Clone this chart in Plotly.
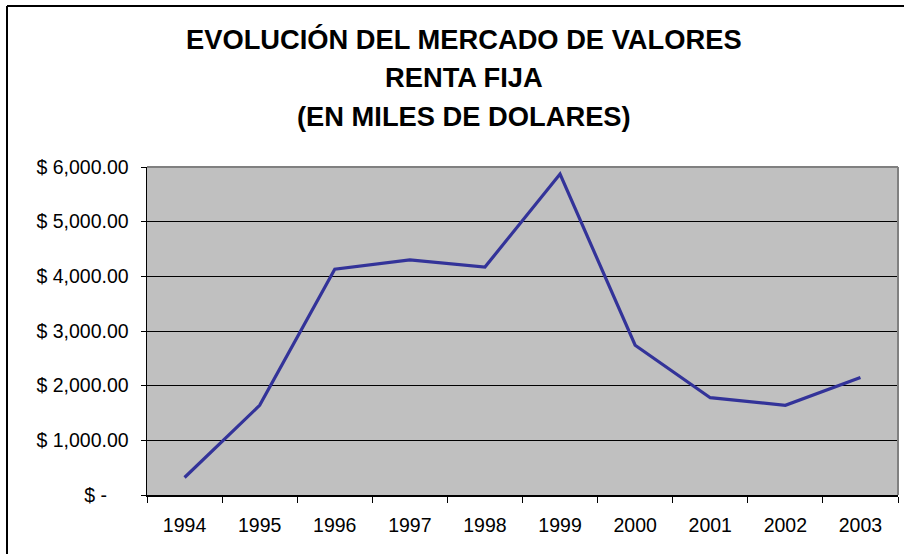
import plotly.graph_objects as go

years = ["1994", "1995", "1996", "1997", "1998", "1999", "2000", "2001", "2002", "2003"]
values = [320, 1640, 4130, 4300, 4170, 5870, 2740, 1780, 1640, 2150]

y_tickvals = [0, 1000, 2000, 3000, 4000, 5000, 6000]
y_ticktext = ["$ -\u00a0\u00a0\u00a0\u00a0", "$ 1,000.00", "$ 2,000.00", "$ 3,000.00",
              "$ 4,000.00", "$ 5,000.00", "$ 6,000.00"]

title_lines = ["EVOLUCIÓN DEL MERCADO DE VALORES", "RENTA FIJA", "(EN MILES DE DOLARES)"]

W, H = 908, 554
L, R, T, B = 147, 898, 167, 495


def px(x):
    return (x - L) / (R - L)


def py(y):
    return (B - y) / (B - T)


FONT = "Liberation Sans, Arial, sans-serif"
TICK_SIZE = 19.5

fig = go.Figure()
fig.add_trace(go.Scatter(
    x=years, y=values, mode="lines",
    line=dict(color="#333399", width=3.2),
    hoverinfo="skip", showlegend=False,
))

fig.update_layout(
    width=W, height=H,
    margin=dict(l=L, r=W - R, t=T, b=H - B, pad=0, autoexpand=False),
    paper_bgcolor="white",
    plot_bgcolor="#c0c0c0",
    font=dict(family=FONT, color="black", size=TICK_SIZE),
    showlegend=False,
)

fig.update_xaxes(
    type="category", tickson="boundaries", range=[-0.5, len(years) - 0.5],
    ticks="outside", ticklen=6, tickwidth=1, tickcolor="black",
    showline=True, linecolor="black", linewidth=1.5,
    showgrid=False, zeroline=False, automargin=False,
    tickfont=dict(family=FONT, size=TICK_SIZE, color="black"),
    ticklabelstandoff=12,
)
fig.update_yaxes(
    range=[0, 6000], tickvals=y_tickvals, ticktext=y_ticktext,
    ticks="outside", ticklen=5, tickwidth=1, tickcolor="black",
    showline=True, linecolor="black", linewidth=1.5,
    showgrid=True, gridcolor="black", gridwidth=1,
    zeroline=False, automargin=False,
    tickfont=dict(family=FONT, size=TICK_SIZE, color="black"),
    ticklabelstandoff=8,
)

shapes = [
    dict(type="line", xref="paper", yref="paper", x0=0, x1=1, y0=1, y1=1,
         line=dict(color="#808080", width=2)),
    dict(type="line", xref="paper", yref="paper", x0=1, x1=1, y0=0, y1=1,
         line=dict(color="#808080", width=2)),
    dict(type="line", xref="paper", yref="paper", x0=px(7), x1=px(7), y0=py(6), y1=py(560),
         line=dict(color="black", width=2)),
    dict(type="line", xref="paper", yref="paper", x0=px(7), x1=px(904), y0=py(6), y1=py(6),
         line=dict(color="black", width=2)),
]
fig.update_layout(shapes=shapes)

title_y = [39, 77, 116]
for txt, yy in zip(title_lines, title_y):
    fig.add_annotation(
        text="<b>%s</b>" % txt, xref="paper", yref="paper",
        x=px(464), y=py(yy), xanchor="center", yanchor="middle",
        showarrow=False, font=dict(family=FONT, size=27.3, color="black"),
    )

fig.write_html(
    "out.html",
    config={"displayModeBar": False, "staticPlot": True},
    post_script="document.body.style.margin='0';document.body.style.overflow='hidden';",
)
